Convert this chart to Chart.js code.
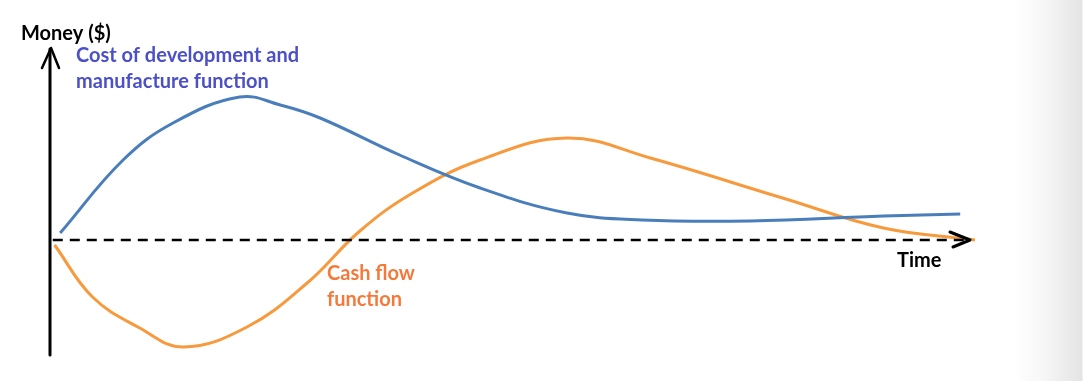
<!DOCTYPE html>
<html>
<head>
<meta charset="utf-8">
<script src="https://cdn.jsdelivr.net/npm/chart.js@4/dist/chart.umd.min.js"></script>
<style>
  html, body { margin: 0; padding: 0; }
  body {
    width: 1085px; height: 381px; overflow: hidden;
    background: linear-gradient(to right, #fff 0px, #fff 1015px, #f6f6f6 1045px, #e4e4e4 1082px, #fff 1083px);
  }
  #wrap { position: relative; width: 1085px; height: 381px; }
</style>
</head>
<body>
<div id="wrap"><canvas id="cashChart"></canvas></div>
<script>
// ==============================
// DATA (time 0..100, money in arbitrary units)
// ==============================
const costTime  = [1.1, 7.9, 13.3, 20.5, 24.9, 29.2, 37.8, 46.5, 55.9, 64.0, 75.7, 90.1, 98.4];
const costValue = [7, 80, 117, 143, 135, 122, 85, 52, 27, 20, 19, 24, 26];

const cashTime  = [0.5, 4.6, 9.7, 14.4, 21.3, 27.8, 33.5, 39.2, 46.5, 55.9, 64.9, 79.2, 90.1, 100];
const cashValue = [-5, -57, -88, -107, -87, -43, 9, 47, 80, 102, 82, 42, 12, 0];

const zeroTime  = [0.3, 99];
const zeroValue = [0, 0];

const axisLabelY = "Money ($)";
const axisLabelX = "Time";
const costLabel  = ["Cost of development and", "manufacture function"];
const cashLabel  = ["Cash flow", "function"];

const toPoints = (xs, ys) => xs.map((x, i) => ({ x, y: ys[i] }));

// axes, arrows and labels drawn over the chart
const sketchPlugin = {
  id: "sketch",
  afterDatasetsDraw(chart) {
    const { ctx, scales: { x, y } } = chart;
    const x0 = x.getPixelForValue(0);
    const yTop = y.getPixelForValue(y.max);
    const yBot = y.getPixelForValue(y.min);
    const y0 = y.getPixelForValue(0);
    const xEnd = x.getPixelForValue(x.max);

    ctx.save();
    ctx.strokeStyle = "#000";
    ctx.lineCap = "round";
    ctx.lineJoin = "round";

    // vertical axis
    ctx.lineWidth = 3;
    ctx.beginPath();
    ctx.moveTo(x0, yBot);
    ctx.lineTo(x0, yTop - 1);
    ctx.stroke();
    ctx.lineWidth = 2.5;
    ctx.beginPath();
    ctx.moveTo(x0 - 8, yTop + 18);
    ctx.lineTo(x0 + 1, yTop - 2);
    ctx.lineTo(x0 + 9, yTop + 18);
    ctx.stroke();

    // time arrow head
    ctx.lineWidth = 3;
    ctx.beginPath();
    ctx.moveTo(xEnd - 25, y0 - 8);
    ctx.lineTo(xEnd - 5, y0);
    ctx.lineTo(xEnd - 22, y0 + 7);
    ctx.stroke();

    // texts
    ctx.textBaseline = "alphabetic";
    ctx.textAlign = "left";
    ctx.font = "bold 20px Lato, 'Open Sans', sans-serif";
    ctx.fillStyle = "#000";
    ctx.fillText(axisLabelY, 21, 40);
    ctx.fillText(axisLabelX, 897, 267);

    ctx.fillStyle = "#4b50c8";
    ctx.fillText(costLabel[0], 76, 62);
    ctx.fillText(costLabel[1], 76, 88);

    ctx.fillStyle = "#f5793a";
    ctx.fillText(cashLabel[0], 327, 280);
    ctx.fillText(cashLabel[1], 327, 306);
    ctx.restore();
  }
};

const ctx = document.getElementById("cashChart").getContext("2d");
new Chart(ctx, {
  type: "scatter",
  data: {
    datasets: [
      {
        label: "zero",
        data: toPoints(zeroTime, zeroValue),
        showLine: true,
        borderColor: "#000",
        borderWidth: 2.5,
        borderDash: [10, 7],
        pointRadius: 0
      },
      {
        label: "Cost of development and manufacture function",
        data: toPoints(costTime, costValue),
        showLine: true,
        borderColor: "#4a7ebb",
        borderWidth: 3,
        tension: 0.4,
        pointRadius: 0
      },
      {
        label: "Cash flow function",
        data: toPoints(cashTime, cashValue),
        showLine: true,
        borderColor: "#f79a3e",
        borderWidth: 3,
        tension: 0.4,
        pointRadius: 0
      }
    ]
  },
  options: {
    responsive: true,
    maintainAspectRatio: false,
    animation: false,
    layout: { padding: { left: 50, right: 110, top: 50, bottom: 26 } },
    plugins: { legend: { display: false }, tooltip: { enabled: false } },
    scales: {
      x: { type: "linear", min: 0, max: 100, display: false },
      y: { type: "linear", min: -115, max: 190, display: false }
    }
  },
  plugins: [sketchPlugin]
});
</script>
</body>
</html>
